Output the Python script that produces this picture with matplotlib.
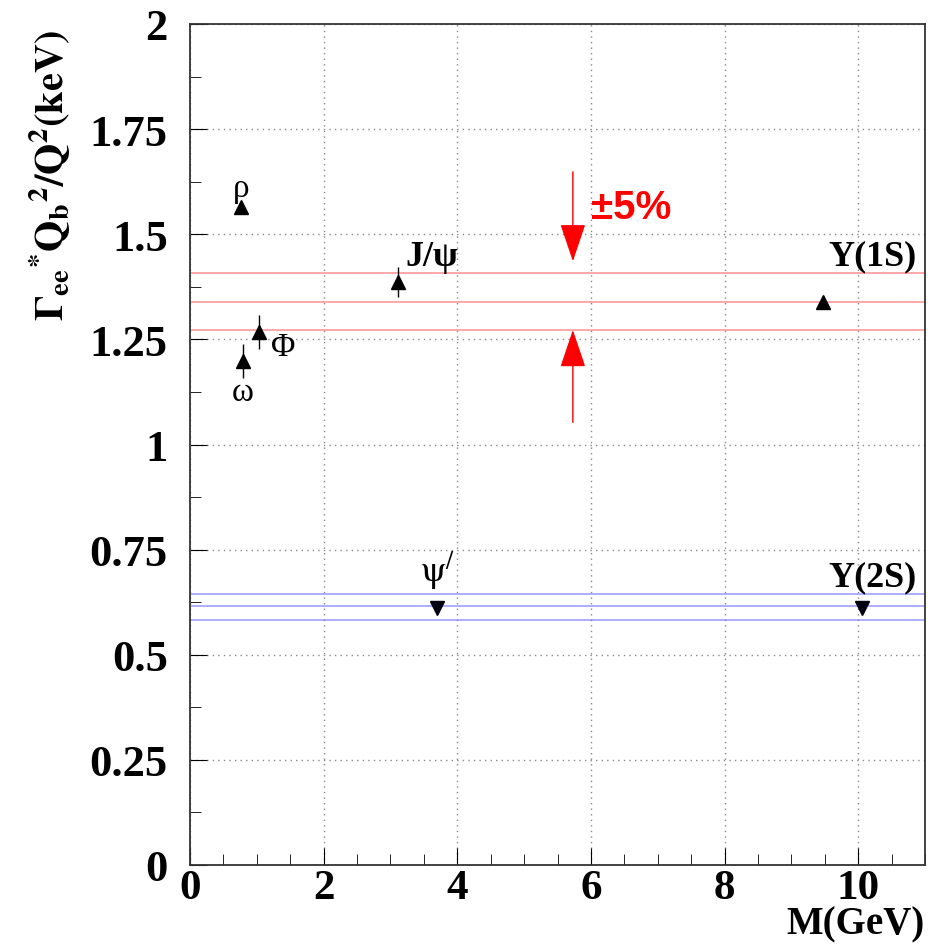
import numpy as np
import matplotlib
matplotlib.use('Agg')
import matplotlib.pyplot as plt

# vector mesons: mass (GeV) and Gamma_ee*Qb^2/Q^2 (keV)
up_names = ['ρ', 'ω', 'Φ', 'J/ψ', 'Y(1S)']
up_mass = [0.76, 0.79, 1.04, 3.11, 9.48]
up_val = [1.565, 1.199, 1.268, 1.386, 1.339]
up_err = [0.0, 0.04, 0.04, 0.036, 0.0]

down_names = ["ψ'", 'Y(2S)']
down_mass = [3.70, 10.05]
down_val = [0.611, 0.611]

# +-5% bands around the 1S and 2S levels
band_1s = [1.273, 1.339, 1.407]
band_2s = [0.583, 0.615, 0.645]

plt.rcParams['font.family'] = ['Liberation Serif', 'DejaVu Serif']
plt.rcParams['mathtext.fontset'] = 'stix'

fig = plt.figure(figsize=(9.38, 9.45), dpi=100)
ax = fig.add_axes([190/938, 1-866/945, 735/938, 841/945])

for y in band_1s:
    ax.axhline(y, color='#ff9a9a', lw=1.2, zorder=1)
for y in band_2s:
    ax.axhline(y, color='#a0a0ff', lw=1.2, zorder=1)

ax.errorbar(up_mass, up_val, yerr=up_err, fmt='^', color='black', ms=10,
            elinewidth=1, capsize=0, zorder=3)
ax.plot(down_mass, down_val, 'v', color='#000010', ms=10, zorder=3)

# particle labels
ax.text(0.76, 1.61, 'ρ', fontsize=24, ha='center', va='center')
ax.text(0.79, 1.125, 'ω', fontsize=24, ha='center', va='center')
ax.text(1.39, 1.232, 'Φ', fontsize=24, ha='center', va='center')
ax.text(3.22, 1.446, 'J/ψ', fontsize=26, fontweight='bold', ha='left', va='center')
ax.text(9.55, 1.448, 'Y(1S)', fontsize=26, fontweight='bold', ha='left', va='center')
ax.text(3.70, 0.70, r'$\mathrm{ψ}^{/}$', fontsize=26, ha='center', va='center')
ax.text(9.55, 0.685, 'Y(2S)', fontsize=26, fontweight='bold', ha='left', va='center')

# +-5% arrows
ax.annotate('', xy=(5.73, 1.429), xytext=(5.73, 1.655),
            arrowprops=dict(arrowstyle='-|>,head_length=0.8,head_width=0.27',
                            color='red', lw=1, mutation_scale=30))
ax.annotate('', xy=(5.73, 1.279), xytext=(5.73, 1.046),
            arrowprops=dict(arrowstyle='-|>,head_length=0.8,head_width=0.27',
                            color='red', lw=1, mutation_scale=30))
ax.text(6.0, 1.565, '±5%', color='red', fontsize=29, fontweight='bold',
        family='Liberation Sans', ha='left', va='center')

ax.set_xlim(0, 11)
ax.set_ylim(0, 2)
ax.set_xticks(np.arange(0, 11, 2))
ax.set_xticks(np.arange(0, 11.01, 0.5), minor=True)
ax.set_yticks(np.arange(0, 2.01, 0.25))
ax.set_yticks(np.arange(0, 2.01, 0.125), minor=True)
ax.set_yticklabels(['0', '0.25', '0.5', '0.75', '1', '1.25', '1.5', '1.75', '2'])
ax.grid(True, which='major', ls=(0, (1, 3)), color='#888888', lw=1)
ax.tick_params(which='both', direction='in', labelsize=32, top=False, right=False)
ax.tick_params(which='major', length=12)
ax.tick_params(which='minor', length=8)
ax.tick_params(axis='y', pad=16)
ax.tick_params(axis='x', pad=3, labelsize=31)
for lab in ax.get_xticklabels() + ax.get_yticklabels():
    lab.set_fontweight('bold')
for s in ax.spines.values():
    s.set_linewidth(1.3)
    s.set_color('#333333')

fig.text(925/938, 1-925/945, 'M(GeV)', fontsize=28, fontweight='bold',
         ha='right', va='center')
fig.text(50/938, 1-176/945, r'$\mathbf{\Gamma_{ee}{}^{*}Q_{b}{}^{2}/Q^{2}(keV)}$',
         fontsize=29, rotation=90, ha='center', va='center')

fig.savefig('out.png', dpi=100)
